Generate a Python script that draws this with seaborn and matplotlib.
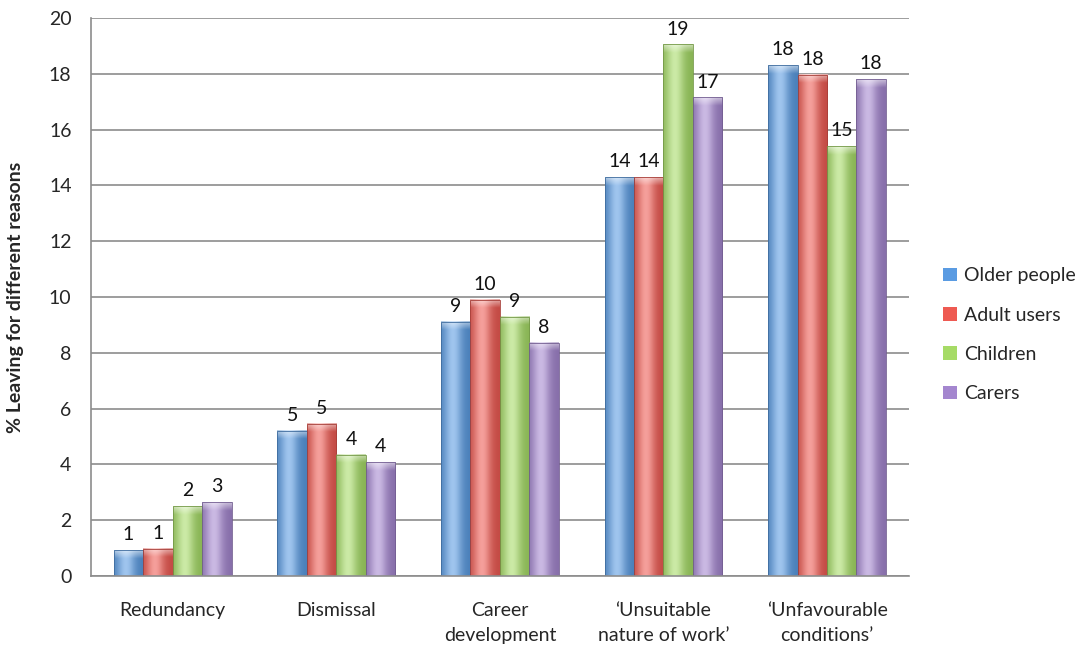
import numpy as np
import pandas as pd
import matplotlib
matplotlib.use("Agg")
import matplotlib.pyplot as plt
import seaborn as sns
from matplotlib.colors import to_rgb
from matplotlib.patches import Patch

# Reasons for leaving, by client group (% of leavers)
reasons = [
    "Redundancy",
    "Dismissal",
    "Career\ndevelopment",
    "\u2018Unsuitable\nnature of work\u2019",
    "\u2018Unfavourable\nconditions\u2019",
]
groups = ["Older people", "Adult users", "Children", "Carers"]
older_people = [0.93, 5.2, 9.12, 14.3, 18.3]
adult_users = [0.98, 5.45, 9.9, 14.3, 17.97]
children = [2.5, 4.35, 9.3, 19.05, 15.4]
carers = [2.64, 4.07, 8.36, 17.15, 17.8]
colors = ["#5a9be2", "#ee5a52", "#a6db66", "#a486cf"]

series = [older_people, adult_users, children, carers]
df = pd.DataFrame(
    [(r, g, v) for g, vals in zip(groups, series) for r, v in zip(reasons, vals)],
    columns=["reason", "group", "value"],
)

sns.set_theme(style="white")
plt.rcParams["font.family"] = ["Lato", "DejaVu Sans"]
FS = 14

fig = plt.figure(figsize=(10.79, 6.49), dpi=100)
ax = fig.add_axes([0.0843, 0.1125, 0.758, 0.8598])

sns.barplot(
    data=df, x="reason", y="value", hue="group", order=reasons,
    hue_order=groups, palette=colors, width=0.72, saturation=1,
    legend=False, ax=ax,
)


def shade_bar(ax, bar, color):
    """Paint a cylinder-like gradient with a light bevel on top of a bar."""
    x, y = bar.get_x(), bar.get_y()
    w, h = bar.get_width(), bar.get_height()
    base = np.array(to_rgb(color))
    u = np.linspace(0, 1, 64)
    t = np.exp(-((u - 0.4) / 0.3) ** 2)
    light = base + (1 - base) * 0.42
    dark = base * 0.82
    row = dark[None, :] + (light - dark)[None, :] * t[:, None]
    nrows = max(int(h / 0.02), 4)
    depth = np.linspace(0, h, nrows)
    bevel = np.clip(1 - depth / 0.3, 0, 1) * 0.55
    img = row[None, :, :] * (1 - bevel[:, None, None]) + bevel[:, None, None]
    ax.imshow(img, extent=(x, x + w, y, y + h), aspect="auto", origin="upper",
              interpolation="bilinear", zorder=bar.get_zorder() + 0.1)
    bar.set_facecolor("none")
    bar.set_edgecolor(tuple(base * 0.7))
    bar.set_linewidth(0.6)
    bar.set_zorder(bar.get_zorder() + 0.2)


for container, col in zip(ax.containers, colors):
    for bar in container:
        shade_bar(ax, bar, col)
    ax.bar_label(container, fmt="%.0f", padding=5, fontsize=FS, color="#111111")

ax.set_xlim(-0.5, len(reasons) - 0.5)
ax.set_ylim(0, 20)
ax.set_yticks(np.arange(0, 21, 2))

ax.yaxis.grid(True, color="#8c8c8c", linewidth=1.2)
ax.set_axisbelow(True)
for side in ["top", "right"]:
    ax.spines[side].set_visible(False)
for side in ["left", "bottom"]:
    ax.spines[side].set_color("#8c8c8c")
    ax.spines[side].set_linewidth(1.2)

ax.set_xticks(np.arange(-0.5, len(reasons), 1.0), minor=True)
ax.tick_params(axis="x", which="major", length=0, pad=19, labelsize=FS)
ax.tick_params(axis="x", which="minor", length=6, color="#8c8c8c", width=1.2)
ax.tick_params(axis="y", which="major", length=5, color="#8c8c8c", width=1.2,
               labelsize=FS, pad=9)
for lbl in ax.get_xticklabels():
    lbl.set_linespacing(1.55)
    lbl.set_verticalalignment("top")

ax.set_xlabel("")
ax.set_ylabel("% Leaving for different reasons", fontsize=14, fontweight="bold")
ax.yaxis.set_label_coords(-0.082, 0.50)

handles = [Patch(facecolor=c, edgecolor="none") for c in colors]
ax.legend(handles, groups, loc="center left", bbox_to_anchor=(1.03, 0.432),
          frameon=False, fontsize=FS, handlelength=0.7, handleheight=0.7,
          handletextpad=0.4, labelspacing=1.15, borderpad=0)

fig.savefig("out.png", dpi=100)
